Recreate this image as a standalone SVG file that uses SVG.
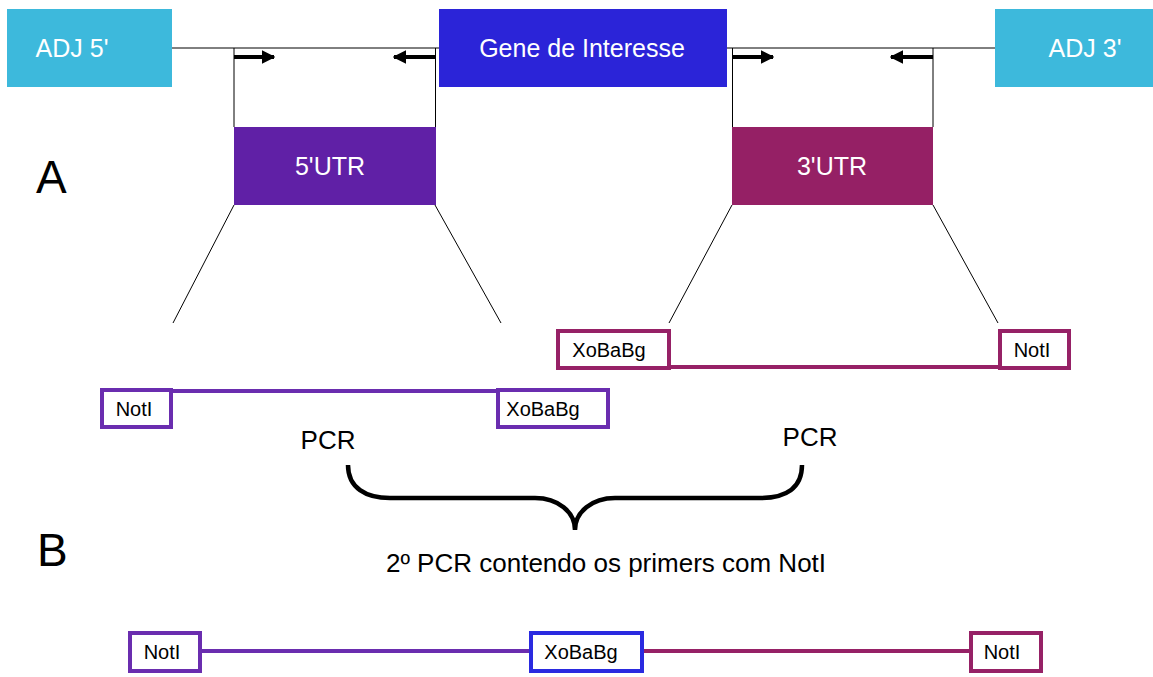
<svg xmlns="http://www.w3.org/2000/svg" width="1153" height="677" viewBox="0 0 1153 677">
  <defs>
    <style>
      text { font-family: "Liberation Sans", Arial, sans-serif; }
      .boxlabel { fill: #ffffff; font-size: 25px; text-anchor: middle; }
      .site { fill: #000000; font-size: 20px; text-anchor: middle; }
      .big { fill: #000000; font-size: 46px; }
      .pcr { fill: #000000; font-size: 26px; text-anchor: middle; }
      .thin { stroke: #000000; stroke-width: 1; fill: none; }
      .primer { stroke: #000000; stroke-width: 4; fill: none; }
      .purple { stroke: #6A2DAF; stroke-width: 4; fill: #ffffff; }
      .magenta { stroke: #962166; stroke-width: 4; fill: #ffffff; }
      .blue { stroke: #2A2AE0; stroke-width: 4; fill: #ffffff; }
    </style>
    <marker id="head" viewBox="0 0 10 10" refX="9" refY="5" markerWidth="3.4" markerHeight="4" orient="auto" markerUnits="strokeWidth">
      <path d="M0,0 L10,5 L0,10 z" fill="#000000"/>
    </marker>
  </defs>

  <rect width="1153" height="677" fill="#ffffff"/>

  <!-- connectors: backbone, primer brackets, zoom lines, brace -->
  <g id="connectors">
    <line class="thin" x1="172" y1="48" x2="439" y2="48"/>
    <line class="thin" x1="727" y1="48" x2="995" y2="48"/>
    <line class="thin" x1="234" y1="48" x2="234" y2="127"/>
    <line class="thin" x1="435.5" y1="48" x2="435.5" y2="127" stroke="#777"/>
    <line class="thin" x1="732.5" y1="48" x2="732.5" y2="127" stroke="#777"/>
    <line class="thin" x1="933" y1="48" x2="933" y2="127"/>
    <line class="primer" x1="234" y1="57" x2="274" y2="57" marker-end="url(#head)"/>
    <line class="primer" x1="436" y1="57" x2="394" y2="57" marker-end="url(#head)"/>
    <line class="primer" x1="732" y1="57" x2="773" y2="57" marker-end="url(#head)"/>
    <line class="primer" x1="933" y1="57" x2="891" y2="57" marker-end="url(#head)"/>
    <line class="thin" x1="234" y1="205" x2="173" y2="323"/>
    <line class="thin" x1="435" y1="205" x2="501" y2="323"/>
    <line class="thin" x1="732" y1="205" x2="669" y2="323"/>
    <line class="thin" x1="933" y1="205" x2="998" y2="323"/>
    <path d="M348,465 C348,488 366,498 390,498 L535,498 C558,498 575,512 575,530 C575,512 592,498 615,498 L760,498 C786,498 802,488 802,465" fill="none" stroke="#000" stroke-width="4.5"/>
  </g>

  <!-- top construct -->
  <g id="adj5">
    <rect x="7" y="9" width="165" height="78" fill="#3DB9DC"/>
    <text class="boxlabel" x="72" y="57">ADJ 5'</text>
  </g>
  <g id="gene">
    <rect x="439" y="9" width="288" height="78" fill="#2B24D8"/>
    <text class="boxlabel" x="582" y="57">Gene de Interesse</text>
  </g>
  <g id="adj3">
    <rect x="995" y="9" width="158" height="78" fill="#3DB9DC"/>
    <text class="boxlabel" x="1085" y="57">ADJ 3'</text>
  </g>
  <g id="utr5">
    <rect x="234" y="127" width="202" height="78" fill="#6020A6"/>
    <text class="boxlabel" x="330" y="175">5'UTR</text>
  </g>
  <g id="utr3">
    <rect x="732" y="127" width="201" height="78" fill="#952065"/>
    <text class="boxlabel" x="832" y="175">3'UTR</text>
  </g>

  <g id="labelA"><text class="big" x="36" y="193">A</text></g>
  <g id="labelB"><text class="big" x="37" y="566">B</text></g>

  <!-- 5'UTR amplicon -->
  <g id="frag5">
    <line x1="171" y1="391" x2="497" y2="391" stroke="#6A2DAF" stroke-width="4"/>
    <rect class="purple" x="102" y="390" width="69" height="37"/>
    <text class="site" x="134" y="416">NotI</text>
    <rect class="purple" x="498" y="390" width="110" height="37"/>
    <text class="site" x="543" y="416">XoBaBg</text>
  </g>

  <!-- 3'UTR amplicon -->
  <g id="frag3">
    <line x1="670" y1="367" x2="999" y2="367" stroke="#962166" stroke-width="4"/>
    <rect class="magenta" x="558" y="331" width="111" height="37"/>
    <text class="site" x="609" y="357">XoBaBg</text>
    <rect class="magenta" x="1000" y="331" width="69" height="37"/>
    <text class="site" x="1032" y="357">NotI</text>
  </g>

  <g id="pcrLeft"><text class="pcr" x="328" y="449">PCR</text></g>
  <g id="pcrRight"><text class="pcr" x="810" y="446">PCR</text></g>
  <g id="pcr2"><text class="pcr" x="606" y="572">2º PCR contendo os primers com NotI</text></g>

  <!-- final fused product -->
  <g id="fusion">
    <line x1="200" y1="651" x2="530" y2="651" stroke="#6A2DAF" stroke-width="4"/>
    <line x1="642" y1="651" x2="970" y2="651" stroke="#962166" stroke-width="4"/>
    <rect class="purple" x="130" y="633" width="70" height="38"/>
    <text class="site" x="162" y="659">NotI</text>
    <rect class="blue" x="531" y="633" width="111" height="38"/>
    <text class="site" x="581" y="659">XoBaBg</text>
    <rect class="magenta" x="971" y="633" width="70" height="38"/>
    <text class="site" x="1002" y="659">NotI</text>
  </g>
</svg>
